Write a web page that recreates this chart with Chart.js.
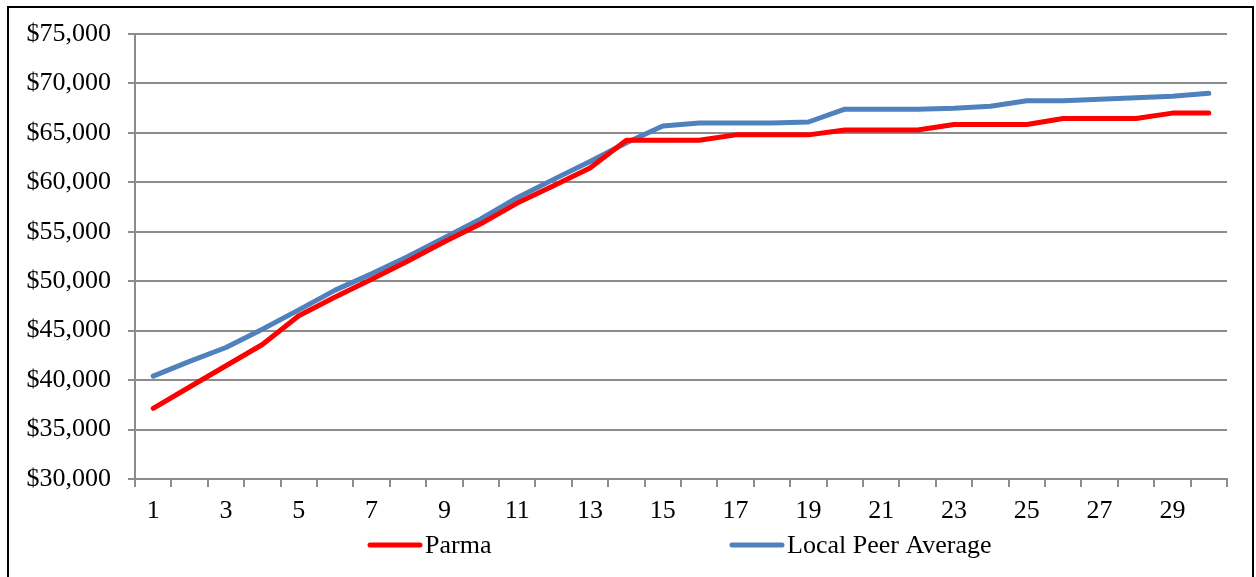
<!DOCTYPE html>
<html>
<head>
<meta charset="utf-8">
<script src="https://cdn.jsdelivr.net/npm/chart.js@4.4.1/dist/chart.umd.min.js"></script>
<style>
    html, body { margin: 0; padding: 0; background: #ffffff; overflow: hidden; }
    #salaryChart { display: block; }
</style>
</head>
<body>
<canvas id="salaryChart" width="1256" height="577"></canvas>
<script>
const steps = ['1', '2', '3', '4', '5', '6', '7', '8', '9', '10',
    '11', '12', '13', '14', '15', '16', '17', '18', '19', '20',
    '21', '22', '23', '24', '25', '26', '27', '28', '29', '30'];

const parmaSalaries = [37150, 39300, 41450, 43600, 46500, 48400, 50200, 52050, 54000, 55800,
    57900, 59650, 61450, 64250, 64250, 64250, 64800, 64800, 64800, 65300,
    65300, 65300, 65850, 65850, 65850, 66450, 66450, 66450, 67000, 67000];

const peerSalaries = [40400, 41900, 43300, 45150, 47100, 49100, 50750, 52500, 54400, 56300,
    58450, 60300, 62100, 64000, 65700, 66000, 66000, 66000, 66100, 67400,
    67400, 67400, 67500, 67700, 68250, 68250, 68400, 68550, 68700, 69000];

const yTicks = [30000, 35000, 40000, 45000, 50000, 55000, 60000, 65000, 70000, 75000];

const FONT = "'Liberation Serif', 'Times New Roman', serif";
const GRID = '#8c8c8c';

// outer frame of the chart object
const framePlugin = {
    id: 'frame',
    beforeDraw(chart) {
        const ctx = chart.ctx;
        ctx.save();
        ctx.strokeStyle = '#000000';
        ctx.lineWidth = 2;
        ctx.strokeRect(8, 7, 1245, 600);
        ctx.restore();
    }
};

// excel style legend: long line sample then the name
const legendPlugin = {
    id: 'lineLegend',
    afterDraw(chart) {
        const ctx = chart.ctx;
        const starts = [368, 730];
        const y = 545;
        ctx.save();
        ctx.font = '26px ' + FONT;
        ctx.textBaseline = 'middle';
        ctx.lineCap = 'round';
        chart.data.datasets.forEach((ds, i) => {
            const x = starts[i];
            ctx.strokeStyle = ds.borderColor;
            ctx.lineWidth = 5;
            ctx.beginPath();
            ctx.moveTo(x + 2, y);
            ctx.lineTo(x + 52, y);
            ctx.stroke();
            ctx.fillStyle = '#000000';
            ctx.fillText(ds.label, x + 57, y + 1);
        });
        ctx.restore();
    }
};

function formatDollars(value) {
    return '$' + value.toLocaleString('en-US');
}

function drawSalaryChart() {
    const ctx = document.getElementById('salaryChart').getContext('2d');
    new Chart(ctx, {
        type: 'line',
        data: {
            labels: steps,
            datasets: [{
                label: 'Parma',
                data: parmaSalaries,
                borderColor: '#ff0000',
                borderWidth: 5,
                borderCapStyle: 'round',
                borderJoinStyle: 'round',
                pointRadius: 0,
                tension: 0
            }, {
                label: 'Local Peer Average',
                data: peerSalaries,
                borderColor: '#4f81bd',
                borderWidth: 5,
                borderCapStyle: 'round',
                borderJoinStyle: 'round',
                pointRadius: 0,
                tension: 0
            }]
        },
        options: {
            responsive: false,
            animation: false,
            devicePixelRatio: 1,
            layout: {
                padding: { left: 0, top: 34, right: 29, bottom: 0 }
            },
            plugins: {
                legend: { display: false },
                title: { display: false },
                tooltip: { enabled: false }
            },
            scales: {
                x: {
                    type: 'category',
                    offset: true,
                    afterFit: scale => { scale.height = 98; },
                    grid: {
                        offset: true,
                        drawOnChartArea: false,
                        drawTicks: true,
                        tickLength: 8,
                        color: GRID,
                        lineWidth: 2
                    },
                    border: { color: GRID, width: 2 },
                    ticks: {
                        autoSkip: false,
                        maxRotation: 0,
                        padding: 9,
                        color: '#000000',
                        font: { family: FONT, size: 26 },
                        callback: (value, index) => index % 2 === 0 ? steps[index] : ''
                    }
                },
                y: {
                    min: yTicks[0],
                    max: yTicks[yTicks.length - 1],
                    afterFit: scale => { scale.width = 135; },
                    afterBuildTicks: scale => {
                        scale.ticks = yTicks.map(v => ({ value: v }));
                    },
                    grid: {
                        color: GRID,
                        lineWidth: 2,
                        tickLength: 7
                    },
                    border: { color: GRID, width: 2 },
                    ticks: {
                        padding: 17,
                        color: '#000000',
                        font: { family: FONT, size: 26 },
                        callback: value => formatDollars(value)
                    }
                }
            }
        },
        plugins: [framePlugin, legendPlugin]
    });
}

document.addEventListener('DOMContentLoaded', function () {
    drawSalaryChart();
});
</script>
</body>
</html>
